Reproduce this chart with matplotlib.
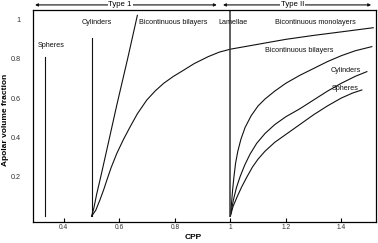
import matplotlib
matplotlib.use("Agg")
import matplotlib.pyplot as plt

plt.rcParams["font.family"] = ["Liberation Sans", "DejaVu Sans"]

# ── data (CPP, apolar volume fraction) ───────────────────────────────────
SPHERE1_X = [1 / 3, 1 / 3]
SPHERE1_Y = [0.0, 0.81]
CYL1_X = [0.5, 0.5]
CYL1_Y = [0.0, 0.905]
LAM_X = [1.0, 1.0]
LAM_Y = [0.0, 1.05]

# cylinders -> bicontinuous bilayers boundary (type 1)
BICO1_X = [0.5, 0.508, 0.519, 0.533, 0.549, 0.591, 0.630, 0.665]
BICO1_Y = [0.0, 0.040, 0.116, 0.200, 0.300, 0.565, 0.800, 1.020]

# bicontinuous bilayers -> lamellae / bicontinuous monolayers
LAMB_X = [0.5, 0.515, 0.530, 0.545, 0.555, 0.570, 0.591, 0.615, 0.639, 0.665, 0.699,
          0.730, 0.760, 0.795, 0.830, 0.870, 0.920, 0.960, 1.0,
          1.1, 1.2, 1.3, 1.4, 1.515]
LAMB_Y = [0.0, 0.030, 0.082, 0.140, 0.183, 0.245, 0.319, 0.390, 0.454, 0.520, 0.590,
          0.637, 0.675, 0.710, 0.740, 0.775, 0.810, 0.833, 0.848,
          0.873, 0.898, 0.918, 0.936, 0.957]

# type II boundaries
BIL2_X = [1.0, 1.004, 1.008, 1.013, 1.019, 1.027, 1.038, 1.053, 1.075, 1.100, 1.125,
          1.160, 1.200, 1.250, 1.300, 1.350, 1.400, 1.450, 1.510]
BIL2_Y = [0.0, 0.060, 0.130, 0.200, 0.270, 0.330, 0.390, 0.450, 0.510, 0.560, 0.595,
          0.635, 0.675, 0.715, 0.750, 0.785, 0.815, 0.840, 0.861]

CYL2_X = [1.0, 1.011, 1.022, 1.035, 1.052, 1.071, 1.095, 1.125, 1.160, 1.200, 1.250,
          1.300, 1.350, 1.400, 1.450, 1.492]
CYL2_Y = [0.0, 0.082, 0.145, 0.200, 0.260, 0.315, 0.370, 0.420, 0.465, 0.505, 0.545,
          0.590, 0.635, 0.675, 0.710, 0.734]

SPH2_X = [1.0, 1.010, 1.025, 1.041, 1.060, 1.080, 1.100, 1.125, 1.160, 1.200, 1.250,
          1.300, 1.350, 1.400, 1.440, 1.474]
SPH2_Y = [0.0, 0.050, 0.100, 0.149, 0.200, 0.250, 0.290, 0.330, 0.375, 0.415, 0.465,
          0.515, 0.560, 0.600, 0.625, 0.641]

XTICKS = [0.4, 0.6, 0.8, 1.0, 1.2, 1.4]
XTICKLABELS = ["0.4", "0.6", "0.8", "1", "1.2", "1.4"]
YTICKS = [0.2, 0.4, 0.6, 0.8, 1.0]
YTICKLABELS = ["0.2", "0.4", "0.6", "0.8", "1"]

# region labels: (text, x, y)
LABELS = [
    ("Spheres", 0.307, 0.869),
    ("Cylinders", 0.465, 0.981),
    ("Bicontinuous bilayers", 0.672, 0.981),
    ("Lamellae", 0.958, 0.981),
    ("Bicontinuous monolayers", 1.160, 0.981),
    ("Bicontinuous bilayers", 1.126, 0.840),
    ("Cylinders", 1.362, 0.742),
    ("Spheres", 1.364, 0.649),
]

# ── plot ────────────────────────────────────────────────────────────────
fig = plt.figure(figsize=(3.78, 2.43), dpi=100)
ax = fig.add_axes([33.3 / 378, 1 - 221.7 / 243, 343 / 378, 211.7 / 243])

lw = 0.8
for xs, ys in [(SPHERE1_X, SPHERE1_Y), (CYL1_X, CYL1_Y), (BICO1_X, BICO1_Y),
               (LAMB_X, LAMB_Y), (BIL2_X, BIL2_Y), (CYL2_X, CYL2_Y), (SPH2_X, SPH2_Y)]:
    ax.plot(xs, ys, color="#111111", lw=lw, solid_joinstyle="round")
ax.plot(LAM_X, LAM_Y, color="#333333", lw=1.1)

for t, x, y in LABELS:
    ax.text(x, y, t, fontsize=5.2, ha="left", va="center", color="#111111")

ax.set_xlim(0.290, 1.526)
ax.set_ylim(-0.028, 1.047)
ax.set_xticks(XTICKS)
ax.set_xticklabels(XTICKLABELS, fontsize=4.8, color="#333333")
ax.set_yticks(YTICKS)
ax.set_yticklabels(YTICKLABELS, fontsize=5.2, color="#333333")
ax.tick_params(axis="x", direction="in", length=3, width=0.8, pad=2)
ax.tick_params(axis="y", length=0, pad=9)
for s in ax.spines.values():
    s.set_linewidth(0.9)

ax.set_xlabel("CPP", fontsize=6, fontweight="bold")
ax.xaxis.set_label_coords(0.465, -0.06)
ax.set_ylabel("Apolar volume fraction", fontsize=6, fontweight="bold")
ax.yaxis.set_label_coords(-0.07, 0.48)

# Type 1 / Type II arrows over the plot
arrow = dict(arrowstyle="<|-|>", color="#111111", lw=0.8, mutation_scale=4,
             shrinkA=0, shrinkB=0)
ax.annotate("", xy=(0.005, 1.024), xytext=(0.535, 1.024), xycoords="axes fraction",
            arrowprops=arrow, annotation_clip=False)
ax.annotate("", xy=(0.553, 1.024), xytext=(0.985, 1.024), xycoords="axes fraction",
            arrowprops=arrow, annotation_clip=False)
bb = dict(facecolor="white", edgecolor="none", pad=0.6)
ax.text(0.253, 1.024, "Type 1", transform=ax.transAxes, fontsize=5.6, ha="center",
        va="center", bbox=bb, clip_on=False)
ax.text(0.757, 1.024, "Type II", transform=ax.transAxes, fontsize=5.6, ha="center",
        va="center", bbox=bb, clip_on=False)

fig.savefig("out.png", dpi=100)
